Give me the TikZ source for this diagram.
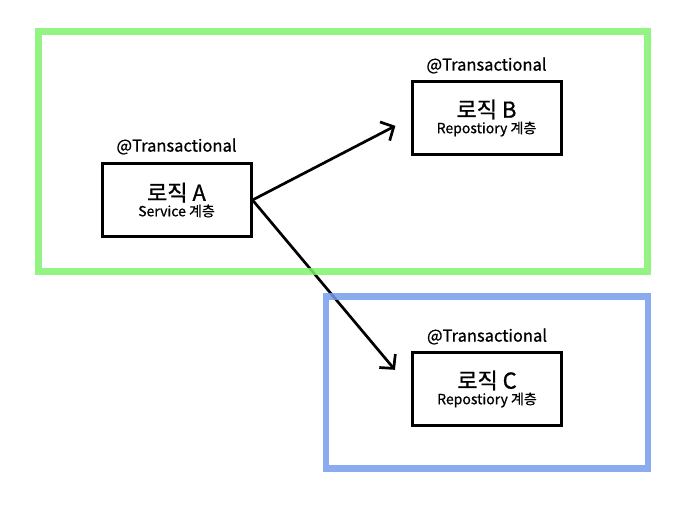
\documentclass[tikz,border=0pt]{standalone}
\usepackage{fontspec}
\setmainfont{Noto Sans CJK KR}[FakeBold=0.8]
\newfontfamily\thickfont{Noto Sans CJK KR}[FakeBold=0.8]
\usetikzlibrary{
    arrows.meta,
    positioning
}
\definecolor{scopegreen}{RGB}{128,242,110}
\definecolor{scopeblue}{RGB}{118,156,236}
\tikzset{
    % Colors
    green scope/.style={draw=scopegreen,line width=6.5pt,draw opacity=.85},
    blue scope/.style={draw=scopeblue,line width=6.5pt,draw opacity=.85},
    %
    % Nodes
    logic/.style={draw,line width=3pt,minimum width=149pt,minimum height=73pt,align=center,inner sep=0pt,font=\thickfont\fontsize{14}{15.5}\selectfont},
    tx label/.style={font=\thickfont\fontsize{16.5}{18}\selectfont},
    %
    % Arrows
    arrow tip/.tip={Straight Barb[length=10pt,width=21pt]},
    arr/.style={->,>={arrow tip},line width=2.7pt}
}
\newcommand{\logictext}[2]{{\fontsize{22}{15.5}\selectfont #1}\\#2}

\begin{document}
\begin{tikzpicture}[x=1pt,y=-1pt]
        \useasboundingbox (0,0) rectangle (686,504);
        \node[logic] (A) at (176.5,200) {\logictext{로직 A}{Service 계층}};
        \node[logic] (B) at (486.5,118) {\logictext{로직 B}{Repostiory 계층}};
        \node[logic] (C) at (487,389) {\logictext{로직 C}{Repostiory 계층}};
        \node[tx label,above=4pt of A] (txA) {@Transactional};
        \node[tx label,above=3pt of B] (txB) {@Transactional};
        \node[tx label,above=3pt of C] (txC) {@Transactional};
        \draw[arr,shorten >=17pt] (A.east) -- (B.west);
        \draw[arr,shorten >=25pt] (A.east) -- (C.west);
        % transaction scopes
        \draw[green scope] (38.5,31.5) rectangle (647.5,271.5);
        \draw[blue scope] (326,296.5) rectangle (648,468.5);
    \end{tikzpicture}
\end{document}
